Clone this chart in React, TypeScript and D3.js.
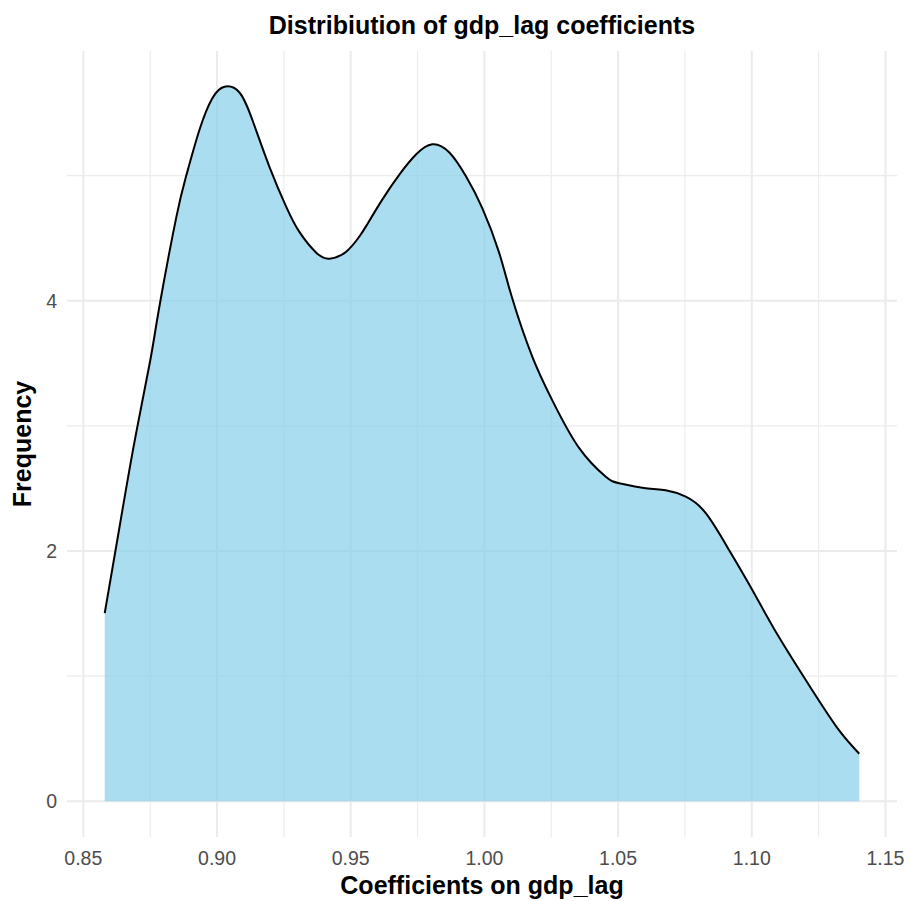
import React from "react";
import * as d3 from "d3";

const coefX = [
  0.858, 0.8636, 0.8692, 0.875, 0.8785, 0.8847, 0.8885, 0.8935, 0.8983, 0.9028,
  0.9084, 0.9133, 0.9196, 0.9258, 0.9308, 0.9371, 0.942, 0.9483, 0.9532, 0.9557,
  0.9618, 0.9682, 0.9744, 0.9805, 0.9869, 0.9931, 0.9992, 1.0055, 1.0104, 1.0179,
  1.0253, 1.0354, 1.0454, 1.0504, 1.0603, 1.0678, 1.0753, 1.0828, 1.0915, 1.1002,
  1.1101, 1.1226, 1.1326, 1.1402,
];
const density = [
  1.504, 2.2, 2.88, 3.52, 3.96, 4.66, 5.0, 5.37, 5.62, 5.71,
  5.664, 5.44, 5.07, 4.754, 4.55, 4.384, 4.336, 4.392, 4.512, 4.594,
  4.808, 5.008, 5.168, 5.25, 5.184, 4.994, 4.74, 4.384, 4.02, 3.554,
  3.208, 2.824, 2.594, 2.542, 2.502, 2.485, 2.434, 2.302, 2.008, 1.688,
  1.314, 0.888, 0.568, 0.38,
];
const xTicks = [0.85, 0.9, 0.95, 1.0, 1.05, 1.1, 1.15];
const xMinor = [0.875, 0.925, 0.975, 1.025, 1.075, 1.125];
const yTicks = [0, 2, 4];
const yMinor = [1, 3, 5];

const W = 911;
const H = 901;
const panel = { left: 67, right: 897, top: 51, bottom: 837 };

export default function App() {
  const pts = coefX.map((x, i) => ({ x, y: density[i] }));
  const xMin = d3.min(coefX)!;
  const xMax = d3.max(coefX)!;
  const yMax = d3.max(density)!;
  const xPad = (xMax - xMin) * 0.05;
  const yPad = yMax * 0.05;
  const x = d3.scaleLinear().domain([xMin - xPad, xMax + xPad]).range([panel.left, panel.right]);
  const y = d3.scaleLinear().domain([-yPad, yMax + yPad]).range([panel.bottom, panel.top]);

  const curve = d3.curveNatural;
  const area = d3
    .area<{ x: number; y: number }>()
    .x((d) => x(d.x))
    .y0(y(0))
    .y1((d) => y(d.y))
    .curve(curve);
  const line = d3
    .line<{ x: number; y: number }>()
    .x((d) => x(d.x))
    .y((d) => y(d.y))
    .curve(curve);

  const font = "'Liberation Sans', Arial, Helvetica, sans-serif";
  const grid = "#EBEBEB";

  return (
    <svg width={W} height={H} style={{ position: "absolute", left: 0, top: 0, background: "#fff" }}>
      <rect x={0} y={0} width={W} height={H} fill="#fff" />
      {xMinor.map((t) => (
        <line key={"xm" + t} x1={x(t)} x2={x(t)} y1={panel.top} y2={panel.bottom} stroke={grid} strokeWidth={1.1} />
      ))}
      {yMinor.map((t) => (
        <line key={"ym" + t} x1={panel.left} x2={panel.right} y1={y(t)} y2={y(t)} stroke={grid} strokeWidth={1.1} />
      ))}
      {xTicks.map((t) => (
        <line key={"xM" + t} x1={x(t)} x2={x(t)} y1={panel.top} y2={panel.bottom} stroke={grid} strokeWidth={2} />
      ))}
      {yTicks.map((t) => (
        <line key={"yM" + t} x1={panel.left} x2={panel.right} y1={y(t)} y2={y(t)} stroke={grid} strokeWidth={2} />
      ))}
      <path d={area(pts) || ""} fill="#87CEEB" fillOpacity={0.7} />
      <path d={line(pts) || ""} fill="none" stroke="#000" strokeWidth={2} />
      {xTicks.map((t) => (
        <text key={"xl" + t} x={x(t)} y={865} textAnchor="middle" fontFamily={font} fontSize={19.5} fill="#4D4D4D">
          {d3.format(".2f")(t)}
        </text>
      ))}
      {yTicks.map((t) => (
        <text key={"yl" + t} x={57} y={y(t) + 7} textAnchor="end" fontFamily={font} fontSize={19.5} fill="#4D4D4D">
          {t}
        </text>
      ))}
      <text x={(panel.left + panel.right) / 2} y={34} textAnchor="middle" fontFamily={font} fontSize={25} fontWeight="bold" fill="#000">
        Distribiution of gdp_lag coefficients
      </text>
      <text x={(panel.left + panel.right) / 2} y={894} textAnchor="middle" fontFamily={font} fontSize={25} fontWeight="bold" fill="#000">
        Coefficients on gdp_lag
      </text>
      <text
        transform={`translate(31, ${(panel.top + panel.bottom) / 2}) rotate(-90)`}
        textAnchor="middle"
        fontFamily={font}
        fontSize={25}
        fontWeight="bold"
        fill="#000"
      >
        Frequency
      </text>
    </svg>
  );
}
